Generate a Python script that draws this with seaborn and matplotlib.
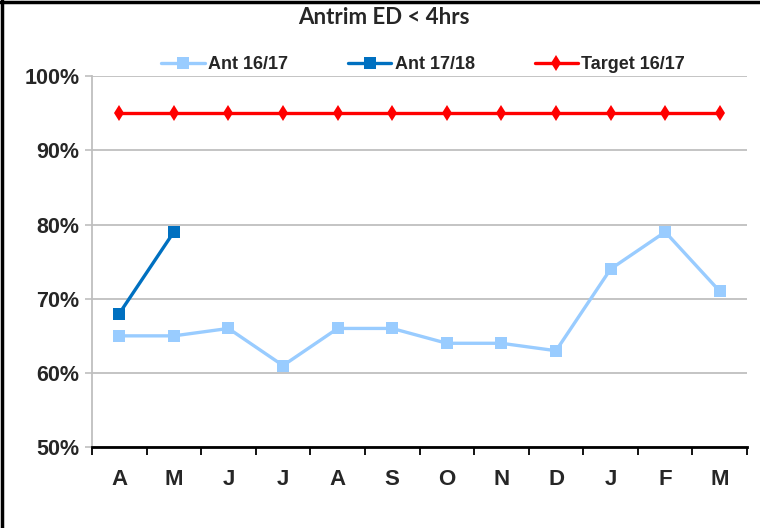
import matplotlib
matplotlib.use("Agg")
import matplotlib.pyplot as plt
import seaborn as sns
import numpy as np
import pandas as pd
from matplotlib.lines import Line2D
from matplotlib.ticker import FixedLocator, FuncFormatter

months = ["A", "M", "J", "J", "A", "S", "O", "N", "D", "J", "F", "M"]
ant_1617 = [65, 65, 66, 61, 66, 66, 64, 64, 63, 74, 79, 71]
ant_1718 = [68, 79]
target_1617 = [95] * 12
yticks = [50, 60, 70, 80, 90, 100]

sns.set_style("white")
narrow = ["Liberation Sans Narrow", "Liberation Sans", "DejaVu Sans"]
plt.rcParams["font.family"] = narrow

fig = plt.figure(figsize=(7.6, 5.28), dpi=100)
ax = fig.add_axes([0.121, 0.153, 0.862, 0.703])

x_all = np.arange(len(months))
df1 = pd.DataFrame({"x": x_all, "y": ant_1617})
df2 = pd.DataFrame({"x": x_all[:len(ant_1718)], "y": ant_1718})
df3 = pd.DataFrame({"x": x_all, "y": target_1617})

c1, c2, c3 = "#99CCFF", "#0070C0", "#FF0000"
sns.lineplot(data=df1, x="x", y="y", ax=ax, color=c1, lw=2.4, marker="s",
             markersize=8, markeredgewidth=0, label="Ant 16/17")
sns.lineplot(data=df2, x="x", y="y", ax=ax, color=c2, lw=2.4, marker="s",
             markersize=8, markeredgewidth=0, label="Ant 17/18")
sns.lineplot(data=df3, x="x", y="y", ax=ax, color=c3, lw=2.4, marker="d",
             markersize=8, markeredgewidth=0, label="Target 16/17")

ax.set_xlim(-0.5, len(months) - 0.5)
ax.set_ylim(50, 100)
ax.set_xlabel("")
ax.set_ylabel("")

ax.yaxis.set_major_locator(FixedLocator(yticks))
ax.yaxis.set_major_formatter(FuncFormatter(lambda v, p: f"{v:.0f}%"))
ax.grid(axis="y", color="#BFBFBF", lw=1.3)
ax.tick_params(axis="y", which="major", left=True, length=5, width=1.2,
               color="#BFBFBF", labelsize=15.5, pad=4)
for t in ax.get_yticklabels():
    t.set_fontweight("bold")

ax.set_xticks(np.arange(-0.5, len(months), 1.0))
ax.set_xticklabels([])
ax.set_xticks(x_all, minor=True)
ax.set_xticklabels(months, minor=True, fontsize=16, fontweight="bold")
ax.tick_params(axis="x", which="major", bottom=True, length=6, width=1.3,
               color="black", direction="out")
ax.tick_params(axis="x", which="minor", bottom=False, length=0, pad=16)

for s in ["top", "right"]:
    ax.spines[s].set_visible(False)
ax.spines["left"].set_color("#BFBFBF")
ax.spines["left"].set_linewidth(1.3)
ax.spines["bottom"].set_color("black")
ax.spines["bottom"].set_linewidth(2.0)

leg = ax.legend(loc="center", bbox_to_anchor=(0.557, 0.877), bbox_transform=fig.transFigure,
                ncol=3, frameon=False, handlelength=2.4, columnspacing=3.3,
                handletextpad=0.2, prop={"family": narrow, "weight": "bold", "size": 13})

fig.text(0.505, 0.966, "Antrim ED < 4hrs", ha="center", va="center",
         fontsize=16, fontweight="bold", family=["Lato", "DejaVu Sans"])

fig.add_artist(Line2D([0.002, 0.002], [0, 1], transform=fig.transFigure, color="black", lw=2.5))
fig.add_artist(Line2D([0, 1], [0.997, 0.997], transform=fig.transFigure, color="black", lw=2.5))

fig.savefig("out.png", dpi=100)
